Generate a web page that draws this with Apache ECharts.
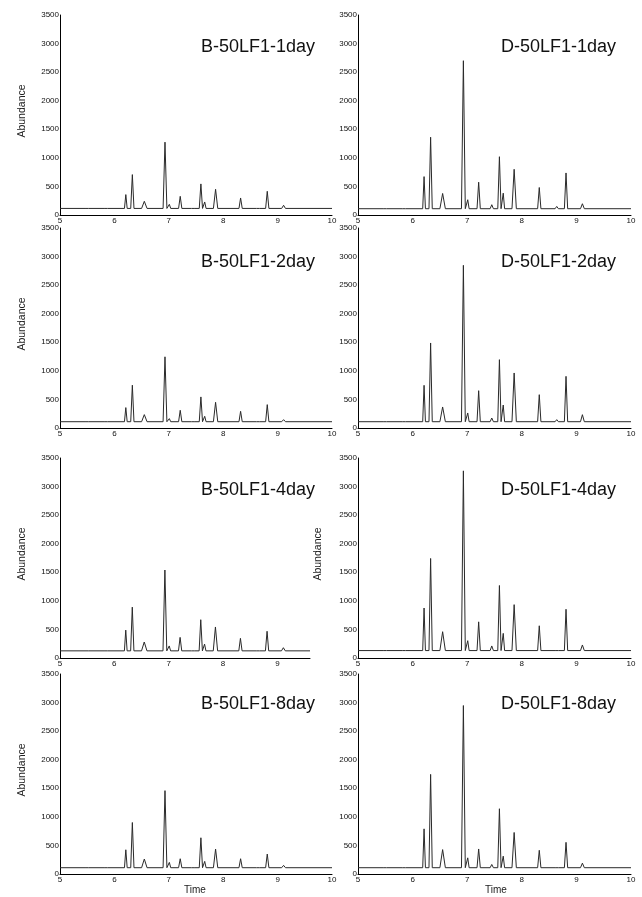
<!DOCTYPE html>
<html>
<head>
<meta charset="utf-8">
<script src="https://cdn.jsdelivr.net/npm/echarts@6/dist/echarts.min.js"></script>
<style>
html,body{margin:0;padding:0;background:#fff;}
#chart{width:642px;height:897px;}
</style>
</head>
<body>
<div id="chart"></div>
<script>
// ---- data ----
const panelNames = ["B-50LF1-1day", "D-50LF1-1day", "B-50LF1-2day", "D-50LF1-2day",
                    "B-50LF1-4day", "D-50LF1-4day", "B-50LF1-8day", "D-50LF1-8day"];
const xTicks = [5, 6, 7, 8, 9, 10];
const yTicks = [0, 500, 1000, 1500, 2000, 2500, 3000, 3500];
// retention times (min) of the peaks and their half base widths
const peakTimes  = [5.49, 5.84, 6.21, 6.33, 6.55, 6.93, 7.01, 7.21, 7.45, 7.59, 7.66, 7.86, 8.32, 8.64, 8.81, 9.11];
const peakWidths = [0.03, 0.03, 0.025, 0.03, 0.05, 0.035, 0.025, 0.03, 0.03, 0.03, 0.025, 0.04, 0.03, 0.03, 0.03, 0.035];
// baseline abundance of each trace
const baselines = [115, 110, 110, 110, 125, 130, 110, 110];
// trace end time (B-4day panel is cut at ~9.6)
const traceEnd = [10, 10, 10, 10, 9.6, 10, 10, 10];
// apex abundance of every peak, per trace
const b1day = [115, 115, 357, 707, 240, 1275, 187, 327, 134, 544, 228, 450, 298, 129, 415, 170];
const d1day = [110, 125, 672, 1361, 377, 2700, 267, 574, 180, 1020, 382, 800, 481, 150, 736, 197];
const b2day = [110, 110, 357, 749, 234, 1246, 164, 310, 134, 544, 205, 450, 292, 129, 409, 146];
const d2day = [110, 134, 747, 1488, 368, 2847, 263, 653, 175, 1196, 402, 963, 583, 146, 904, 233];
const b4day = [125, 125, 488, 890, 280, 1540, 211, 361, 153, 670, 243, 543, 344, 145, 468, 180];
const d4day = [130, 159, 875, 1742, 460, 3275, 303, 633, 211, 1269, 431, 934, 564, 153, 853, 228];
const b8day = [110, 134, 424, 901, 262, 1459, 203, 267, 134, 634, 221, 436, 267, 134, 349, 151];
const d8day = [127, 144, 790, 1743, 427, 2948, 283, 438, 167, 1142, 312, 727, 415, 138, 554, 190];
const traces = [b1day, d1day, b2day, d2day, b4day, d4day, b8day, d8day];

// ---- layout ----
const rowTops = [15, 228, 458, 674];
const gridH = 200;
const colLeft = [60, 358];
const colWidth = [272, 273];
const titleTops = [38, 253, 481, 695];
const titleRight = [327, 26];
const FONT = "Liberation Sans, Arial, sans-serif";

function buildTrace(heights, base, endT) {
  const pts = [[5, base]];
  peakTimes.forEach((t, i) => {
    if (t >= endT) return;
    pts.push([t - peakWidths[i], base]);
    pts.push([t, heights[i]]);
    pts.push([t + peakWidths[i], base]);
  });
  pts.push([endT, base]);
  return pts;
}

const grids = [], xAxes = [], yAxes = [], series = [], titles = [], graphics = [];
for (let p = 0; p < 8; p++) {
  const row = Math.floor(p / 2), col = p % 2;
  const xmax = traceEnd[p];
  const cut = xmax < xTicks[xTicks.length - 1];
  const w = cut ? Math.round(colWidth[col] * (xmax - 5) / 5) : colWidth[col];
  grids.push({left: colLeft[col], top: rowTops[row], width: w, height: gridH, containLabel: false});
  xAxes.push({
    type: 'value', gridIndex: p, min: xTicks[0], max: xmax, interval: 1,
    axisLine: {show: true, onZero: false, lineStyle: {color: '#000', width: 1}},
    axisTick: {show: false}, splitLine: {show: false},
    axisLabel: {fontSize: 8, color: '#111', margin: 2, fontFamily: FONT,
                showMinLabel: true, showMaxLabel: !cut,
                formatter: v => String(v)}
  });
  yAxes.push({
    type: 'value', gridIndex: p, min: yTicks[0], max: yTicks[yTicks.length - 1], interval: 500,
    axisLine: {show: true, onZero: false, lineStyle: {color: '#000', width: 1}},
    axisTick: {show: false}, splitLine: {show: false},
    axisLabel: {fontSize: 8, color: '#111', margin: 1, fontFamily: FONT,
                formatter: v => String(v)}
  });
  series.push({
    type: 'line', xAxisIndex: p, yAxisIndex: p, showSymbol: false, symbol: 'none',
    data: buildTrace(traces[p], baselines[p], xmax),
    lineStyle: {color: '#2a2a2a', width: 1}, animation: false
  });
  titles.push({
    text: panelNames[p], right: titleRight[col], top: titleTops[row], padding: 0,
    textStyle: {fontSize: 18, fontWeight: 'normal', color: '#111', fontFamily: FONT}
  });
  if (col === 0 || p === 5) {
    graphics.push({
      type: 'text', x: col === 0 ? 22 : 318, y: rowTops[row] + 96, rotation: Math.PI / 2,
      style: {text: 'Abundance', fontSize: 10.5, fill: '#222', fontFamily: FONT,
              align: 'center', verticalAlign: 'middle'}
    });
  }
}
graphics.push({type: 'text', x: 195, y: 890,
  style: {text: 'Time', fontSize: 10, fill: '#222', fontFamily: FONT, align: 'center', verticalAlign: 'middle'}});
graphics.push({type: 'text', x: 496, y: 890,
  style: {text: 'Time', fontSize: 10, fill: '#222', fontFamily: FONT, align: 'center', verticalAlign: 'middle'}});

const chart = echarts.init(document.getElementById('chart'), null, {renderer: 'canvas'});
chart.setOption({
  animation: false,
  backgroundColor: '#fff',
  title: titles,
  grid: grids,
  xAxis: xAxes,
  yAxis: yAxes,
  series: series,
  graphic: graphics
});
</script>
</body>
</html>
